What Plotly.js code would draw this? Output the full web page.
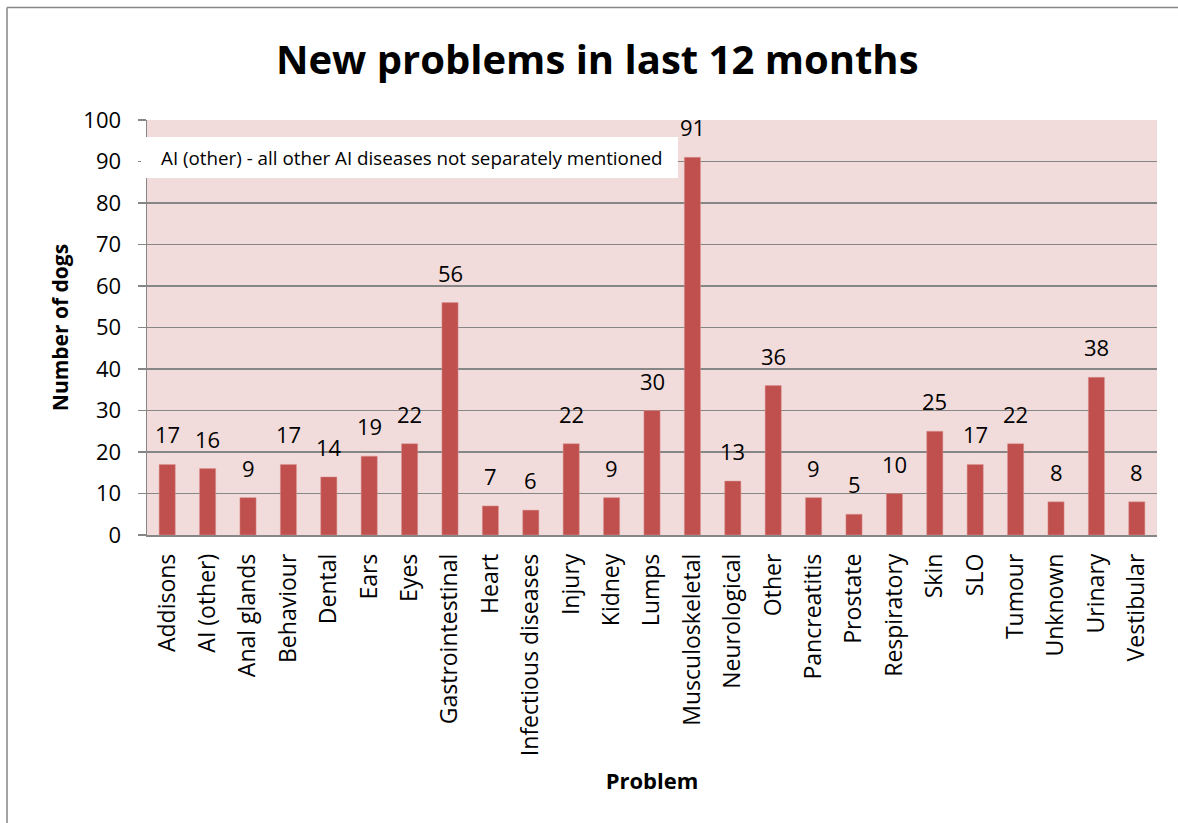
<!DOCTYPE html>
<html><head><meta charset="utf-8">
<script src="https://cdn.plot.ly/plotly-3.0.1.min.js"></script>
<style>html,body{margin:0;padding:0;background:#fff}#chart{width:1178px;height:823px}</style>
</head><body><div id="chart"></div>
<script>
const categories = ["Addisons","AI (other)","Anal glands","Behaviour","Dental","Ears","Eyes","Gastrointestinal","Heart","Infectious diseases","Injury","Kidney","Lumps","Musculoskeletal","Neurological","Other","Pancreatitis","Prostate","Respiratory","Skin","SLO","Tumour","Unknown","Urinary","Vestibular"];
const counts = [17,16,9,17,14,19,22,56,7,6,22,9,30,91,13,36,9,5,10,25,17,22,8,38,8];
const yTicks = [0,10,20,30,40,50,60,70,80,90,100];
const noteText = "AI (other) - all other AI diseases not separately mentioned";

const FONT = "'Open Sans', sans-serif";
const trace = {
  type: 'bar', x: categories, y: counts,
  marker: {color: '#C0504D', line: {color: '#D99694', width: 0.5}},
  width: 0.4,
  hoverinfo: 'x+y'
};
const valueLabels = categories.map((c, i) => ({
  xref: 'x', yref: 'y', x: c, y: counts[i], xanchor: 'center', yanchor: 'bottom',
  yshift: 13, text: String(counts[i]), showarrow: false,
  font: {family: FONT, size: 22, color: '#000'}
}));
const layout = {
  width: 1178, height: 823,
  margin: {l: 147, r: 21, t: 120, b: 288},
  paper_bgcolor: '#fff', plot_bgcolor: '#F2DCDB',
  font: {family: FONT, color: '#000'},
  showlegend: false,
  title: {text: '<b>New problems in last 12 months</b>', font: {family: FONT, size: 40, color: '#000'},
          x: 0.507, xanchor: 'center', y: 0.927, yanchor: 'middle'},
  xaxis: {
    type: 'category', tickangle: -90, tickfont: {family: FONT, size: 23, color: '#000'},
    showline: true, linecolor: '#868686', linewidth: 1.5, ticks: '', showgrid: false,
    ticklabelstandoff: 8,
    title: {text: '<b>Problem</b>', font: {family: FONT, size: 22, color: '#000'}, standoff: 18}
  },
  yaxis: {
    range: [0, 100], tickvals: yTicks, ticktext: yTicks.map(String),
    tickfont: {family: FONT, size: 22, color: '#000'},
    showline: true, linecolor: '#868686', linewidth: 1.5,
    ticks: 'outside', ticklen: 8, tickcolor: '#868686', tickwidth: 1.5,
    ticklabelstandoff: 12,
    showgrid: true, gridcolor: '#868686', gridwidth: 1.5, zeroline: false,
    title: {text: '<b>Number of dogs</b>', font: {family: FONT, size: 21, color: '#000'}, standoff: 9}
  },
  annotations: valueLabels.concat([{
    xref: 'paper', yref: 'paper', x: 0.0119, y: 0.9096, xanchor: 'left', yanchor: 'middle',
    text: noteText, showarrow: false, align: 'left',
    font: {family: FONT, size: 18.8, color: '#000'}
  }]),
  shapes: [
    {type: 'rect', xref: 'paper', yref: 'paper', x0: -0.00594, x1: 0.5257, y0: 0.8602, y1: 0.959, layer: 'above', fillcolor: '#fff', line: {width: 0}},
    {type: 'line', xref: 'paper', yref: 'paper', x0: -0.1386, x1: -0.1386, y0: 1.271, y1: -0.7, line: {color: '#868686', width: 1.5}},
    {type: 'line', xref: 'paper', yref: 'paper', x0: -0.1386, x1: 1.03, y0: 1.271, y1: 1.271, line: {color: '#868686', width: 1.5}}
  ]
};
Plotly.newPlot('chart', [trace], layout, {displayModeBar: false, staticPlot: true});
</script></body></html>
